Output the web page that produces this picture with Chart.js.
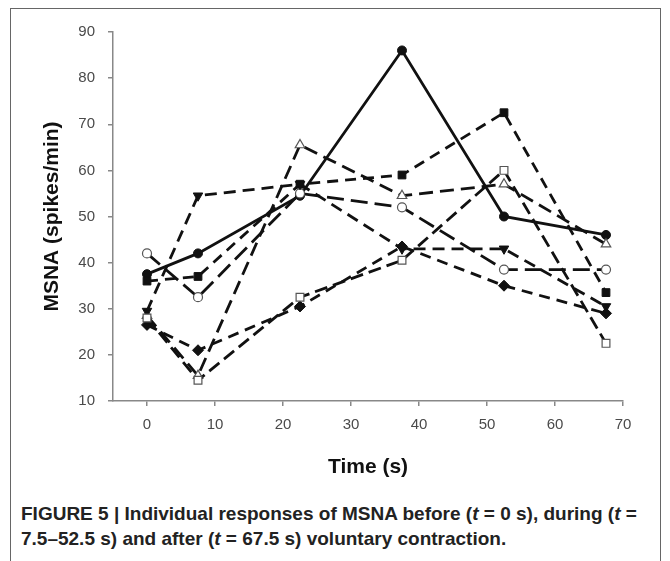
<!DOCTYPE html>
<html>
<head>
<meta charset="utf-8">
<title>MSNA individual responses</title>
<script src="https://cdn.jsdelivr.net/npm/chart.js@4.4.1/dist/chart.umd.min.js"></script>
<style>
  body {
    margin: 0;
    background: #fff;
    width: 670px;
    height: 561px;
    overflow: hidden;
    position: relative;
  }
  #frame {
    position: absolute;
    left: 10px;
    top: 8px;
    width: 649px;
    height: 600px;
    border: 1.5px solid #666;
  }
  #chart {
    position: absolute;
    left: 0;
    top: 0;
  }
  #caption {
    position: absolute;
    left: 21px;
    top: 501px;
    font-family: 'Liberation Sans', Arial, sans-serif;
    font-weight: bold;
    font-size: 19px;
    line-height: 25px;
    color: #222;
    white-space: nowrap;
  }
</style>
</head>
<body>
<div id="frame"></div>
<canvas id="chart" width="670" height="495"></canvas>
<div id="caption">FIGURE 5 | Individual responses of MSNA before (<i>t</i> = 0 s), during (<i>t</i> =<br>7.5–52.5 s) and after (<i>t</i> = 67.5 s) voluntary contraction.</div>

<script>
// Time points (s)
const times = [0, 7.5, 22.5, 37.5, 52.5, 67.5];

// Individual MSNA responses (spikes/min)
const subjFilledCircle = [37.5, 42, 54.5, 86, 50, 46];
const subjFilledSquare = [36, 37, 57, 59, 72.5, 33.5];
const subjOpenCircle = [42, 32.5, 55, 52, 38.5, 38.5];
const subjOpenTriangle = [28.5, 15.5, 65.5, 54.5, 57, 44];
const subjFilledTriDown = [29.5, 54.5, 57, 43, 43, 30.5];
const subjOpenSquare = [28, 14.5, 32.5, 40.5, 60, 22.5];
const subjDiamond = [26.5, 21, 30.5, 43.5, 35, 29];

// Tick labels
const xTickValues = [0, 10, 20, 30, 40, 50, 60, 70];
const yTickValues = [10, 20, 30, 40, 50, 60, 70, 80, 90];

// Build {x, y} points from the arrays
function toPoints(values) {
  return times.map(function (t, i) {
    return { x: t, y: values[i] };
  });
}

// Marker sizes per point style
const markerRadius = { circle: 4.5, rect: 5.5, rectRot: 5.5, triangle: 5.5 };

// Dataset helper
function makeSeries(values, style, filled, dash, rotation) {
  return {
    data: toPoints(values),
    borderColor: '#111',
    borderWidth: 2.8,
    borderDash: dash,
    pointStyle: style,
    pointRotation: rotation || 0,
    pointRadius: markerRadius[style],
    pointBackgroundColor: filled ? '#111' : '#fff',
    pointBorderColor: filled ? '#111' : '#555',
    pointBorderWidth: filled ? 1 : 1.2,
    tension: 0,
    fill: false,
  };
}

const datasets = [
  makeSeries(subjOpenSquare, 'rect', false, [13, 6]),
  makeSeries(subjDiamond, 'rectRot', true, [11, 7]),
  makeSeries(subjFilledTriDown, 'triangle', true, [12, 7], 180),
  makeSeries(subjOpenTriangle, 'triangle', false, [14, 7]),
  makeSeries(subjOpenCircle, 'circle', false, [17, 7]),
  makeSeries(subjFilledSquare, 'rect', true, [11, 7]),
  makeSeries(subjFilledCircle, 'circle', true, []),
];

const axisColor = '#888';
const tickFont = { family: "'Liberation Sans', Arial, sans-serif", size: 15 };
const titleFont = { family: "'Liberation Sans', Arial, sans-serif", size: 21, weight: 'bold' };

new Chart(document.getElementById('chart'), {
  type: 'line',
  data: { datasets: datasets },
  options: {
    responsive: false,
    animation: false,
    layout: { padding: { left: 0, right: 47, top: 32, bottom: 0 } },
    plugins: {
      legend: { display: false },
      tooltip: { enabled: false },
    },
    elements: { line: { borderCapStyle: 'butt' } },
    scales: {
      x: {
        type: 'linear',
        min: -5,
        max: 70,
        afterBuildTicks: function (scale) {
          scale.ticks = xTickValues.map(function (v) { return { value: v }; });
        },
        afterFit: function (scale) { scale.height = 94; },
        border: { color: axisColor, width: 1.5 },
        grid: { display: true, drawOnChartArea: false, color: axisColor, tickLength: 5, lineWidth: 1.5 },
        ticks: { color: '#4a4a4a', font: tickFont, padding: 10, maxRotation: 0 },
        title: {
          display: true,
          text: 'Time (s)',
          color: '#111',
          font: titleFont,
          padding: { top: 0, bottom: 15 },
        },
      },
      y: {
        type: 'linear',
        min: 10,
        max: 90,
        afterBuildTicks: function (scale) {
          scale.ticks = yTickValues.map(function (v) { return { value: v }; });
        },
        afterFit: function (scale) { scale.width = 113; },
        border: { color: axisColor, width: 1.5 },
        grid: { display: true, drawOnChartArea: false, color: axisColor, tickLength: 5, lineWidth: 1.5 },
        ticks: { color: '#4a4a4a', font: tickFont, padding: 13 },
        title: {
          display: true,
          text: 'MSNA (spikes/min)',
          color: '#111',
          font: titleFont,
          padding: { top: 40, bottom: 0 },
        },
      },
    },
  },
});
</script>
</body>
</html>
